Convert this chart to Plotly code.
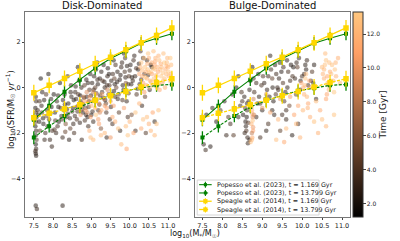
import plotly.graph_objects as go

# ---------------- reference relations ----------------
mass_bins = [7.5, 7.9, 8.3, 8.7, 9.1, 9.5, 9.9, 10.3, 10.7, 11.1]
popesso_early = [-1.42, -0.80, -0.18, 0.35, 0.85, 1.28, 1.60, 1.95, 2.17, 2.37]
popesso_late = [-2.20, -1.70, -1.25, -0.85, -0.58, -0.34, -0.14, -0.03, 0.10, 0.14]
speagle_early = [-0.23, 0.10, 0.40, 0.72, 1.05, 1.34, 1.67, 1.97, 2.30, 2.63]
speagle_late = [-1.33, -1.13, -0.94, -0.76, -0.56, -0.36, -0.17, 0.03, 0.22, 0.39]
popesso_err = 0.28
speagle_err = 0.35

# ---------------- disk-dominated galaxies ----------------
disk_mass = [
    7.55, 7.56, 7.54, 7.55, 7.57, 7.55, 7.54, 7.56, 7.55, 7.57, 7.55, 7.56, 7.54, 7.55, 7.56,
    7.55, 7.58, 8.25,
    7.62, 7.70, 7.75, 7.68, 7.80, 7.85, 7.90, 7.95, 7.78, 7.88, 7.66, 7.98, 7.72, 7.92, 7.83,
    8.05, 8.10, 8.15, 8.20, 8.25, 8.30, 8.35, 8.40, 8.45, 8.08, 8.18, 8.28, 8.38, 8.48, 8.12, 8.42, 8.33,
    8.52, 8.58, 8.62, 8.68, 8.72, 8.78, 8.82, 8.88, 8.92, 8.97, 8.55, 8.65, 8.75, 8.85, 8.95, 8.60, 8.90,
    9.02, 9.08, 9.12, 9.18, 9.22, 9.28, 9.32, 9.38, 9.42, 9.48, 9.05, 9.15, 9.25, 9.35, 9.45, 9.10, 9.40,
    9.52, 9.58, 9.62, 9.68, 9.72, 9.78, 9.82, 9.88, 9.92, 9.98, 9.55, 9.65, 9.75, 9.85, 9.95, 9.60, 9.90,
    10.02, 10.08, 10.12, 10.18, 10.22, 10.28, 10.32, 10.38, 10.45, 10.52, 10.58, 10.65, 10.15, 10.42, 10.05,
    7.65, 7.74, 7.82, 7.93, 7.97, 8.02, 8.06, 8.14, 8.22, 8.26, 8.32, 8.36, 8.44, 8.47, 8.50,
    8.54, 8.57, 8.63, 8.66, 8.70, 8.74, 8.79, 8.83, 8.87, 8.93, 8.99, 9.03, 9.07, 9.13, 9.17,
    9.21, 9.26, 9.31, 9.34, 9.39, 9.43, 9.47, 9.51, 9.56, 9.59, 9.63, 9.67, 9.71, 9.76, 9.80,
    9.84, 9.87, 9.93, 9.97, 10.00, 10.04, 10.10, 10.14, 10.20, 10.24, 10.30, 10.35, 10.40, 10.48, 10.55,
    7.60, 7.64, 7.71, 7.77, 7.86, 7.96, 8.04, 8.13, 8.23, 8.31, 8.39, 8.46, 8.53, 8.59, 8.64,
    8.71, 8.76, 8.81, 8.86, 8.91, 8.94, 9.00, 9.06, 9.11, 9.16, 9.23, 9.29, 9.36, 9.41, 9.46,
    9.53, 9.61, 9.69, 9.74, 9.81, 9.89, 9.96, 10.06, 10.17, 10.26,
    10.25, 10.30, 10.35, 10.40, 10.45, 10.50, 10.55, 10.60, 10.65, 10.70, 10.75, 10.80, 10.85, 10.90, 10.95,
    11.00, 11.05, 10.38, 10.62, 10.78, 10.88, 10.52, 10.68, 10.98, 10.72, 10.58, 10.82, 10.47, 10.92, 11.08,
    10.28, 10.33, 10.37, 10.43, 10.48, 10.53, 10.57, 10.63, 10.67, 10.71, 10.74, 10.77, 10.83, 10.87, 10.93,
    10.97, 11.02, 11.06, 10.42, 10.66,
    10.32, 10.41, 10.46, 10.51, 10.56, 10.61, 10.66, 10.69, 10.76, 10.81, 10.86, 10.91, 10.96, 11.01, 11.07,
    8.65, 8.72, 8.80, 8.85, 8.92, 8.98, 9.05, 9.10, 9.15, 9.22, 9.28, 9.35, 9.42, 9.50, 8.75, 9.00, 9.18, 8.88,
    8.70, 8.82, 8.90, 8.96, 9.03, 9.12, 9.20, 9.26, 9.33, 9.40, 9.47, 9.58,
    8.95, 9.05, 9.20, 9.35, 9.55, 9.70, 9.85, 10.00, 10.15, 10.30, 10.45, 10.55, 10.60, 10.70, 9.50, 9.95,
    10.25, 9.78, 9.12, 8.98, 9.92,
    9.25, 9.62, 9.90, 10.10, 10.35, 10.50, 10.65, 10.75,
]
disk_sfr = [
    -0.4, -0.6, -0.9, -1.1, -1.3, -1.5, -1.7, -1.9, -2.1, -2.3, -2.5, -2.7, -2.8, -2.9, -3.0,
    -5.2, -5.35, -5.2,
    -1.2, -0.8, -1.6, 0.4, -2.0, -1.0, -1.4, -0.5, -2.3, 0.6, -1.9, -1.9, -0.2, -2.3, -1.25,
    -1.1, -0.6, -1.5, -0.9, -2.2, -0.3, -1.3, -0.7, -1.8, -2.0, 0.2, -1.0, 0.5, -0.4, -1.7, -2.3, -1.6,
    -0.9, -0.2, -1.4, 0.3, -0.6, -1.1, 0.1, -0.4, -1.7, 0.6, -2.0, 0.9, -2.3, -0.9, -0.1, -0.5, -1.3,
    0.2, -0.5, 0.8, -1.0, 0.4, -0.2, 1.0, -0.7, 0.5, -1.4, -1.5, 1.1, -1.8, 0.0, -0.3, 0.0, -2.2,
    0.3, 1.2, -0.4, 0.7, -1.1, 0.9, 0.1, 1.3, -0.6, 0.5, -1.6, 0.0, -1.9, 1.5, -1.3, 0.4, 0.2,
    1.0, 0.3, 1.4, -0.3, 0.8, 1.6, -0.8, 0.6, 1.2, -0.1, 0.9, -1.5, -1.9, -2.0, -1.2,
    -0.6, -1.35, -0.3, -1.15, -2.6, -0.3, -1.45, -0.85, -1.25, -0.55, -1.95, -0.95, -1.35, 0.1, -1.05,
    -0.55, -1.25, -0.85, -0.3, -1.55, 0.0, -0.75, -1.45, 0.35, -0.85, -0.35, -1.05, 0.5, -0.25, 0.15,
    -0.75, 0.7, -0.45, 0.25, -1.1, 0.85, 0.1, -0.85, 0.6, -0.15, 1.0, 0.25, -0.3, 0.55, 1.1,
    -0.1, 0.7, 0.95, -0.25, 0.75, 0.15, 1.2, 0.5, -0.05, 1.05, 0.35, 1.3, -0.4, 0.55, 1.0,
    -1.0, -1.5, -1.1, -0.55, -1.7, -0.85, -1.85, -0.35, -1.4, -0.75, -1.15, -0.2, -1.6, 0.05, -1.05,
    -0.35, -0.95, -0.45, -1.2, 0.2, -0.6, -1.2, -0.1, -0.6, 0.35, -0.35, 0.3, -0.55, 0.1, 0.6,
    -0.3, 0.15, -0.5, 0.35, -0.55, 0.45, 0.15, 0.45, 0.85, 0.15,
    0.6, 1.1, 0.2, 0.9, 0.4, 1.3, 0.7, 0.1, 1.0, 0.5, 1.4, 0.8, 0.2, 1.1, 0.6,
    0.9, 0.3, -0.2, 1.6, -0.1, 1.5, 0.0, 0.3, 1.3, 0.9, 0.6, 0.5, 0.8, 0.0, 1.0,
    0.9, 0.5, 1.3, 0.1, 1.5, 0.3, 1.1, 0.4, 1.3, 0.0, 0.7, 1.2, 0.9, 0.3, 0.8,
    1.1, 0.5, 1.3, 0.7, 0.8,
    0.75, 0.45, 1.05, 0.65, 0.25, 0.85, 1.15, 0.55, 0.15, 1.05, 0.65, 0.4, 0.95, 0.7, 0.6,
    -0.8, -1.2, -0.4, -1.0, -0.6, -1.3, -0.2, -0.9, -0.5, -1.1, -0.3, -0.8, -0.1, -0.6, -0.7, -0.8, -1.4, -0.2,
    -1.0, -0.6, -1.1, -0.4, -0.6, -0.3, -0.7, -1.0, -0.5, -0.9, -0.3, -0.8,
    -1.9, -2.3, -1.6, -2.0, -1.3, -1.8, -0.9, -1.5, -1.1, -1.8, -1.3, -1.9, -1.1, -1.6, -2.2, -2.1,
    -0.7, -2.5, -1.2, -2.2, -2.7,
    -2.1, -1.5, -1.7, -2.0, -1.4, -1.6, -2.1, -1.0,
]
disk_time = [
    2.4, 3.1, 2.0, 3.6, 2.7, 4.2, 2.2, 3.0, 2.5, 3.8, 2.1, 2.9, 3.3, 2.6, 2.3,
    2.5, 3.0, 2.6,
    2.1, 3.0, 2.5, 1.8, 3.4, 2.2, 4.0, 2.8, 3.1, 2.0, 4.5, 3.6, 2.6, 2.9, 5.0,
    2.4, 3.1, 2.0, 4.2, 3.0, 2.5, 3.8, 2.2, 4.6, 2.9, 1.9, 5.2, 3.3, 2.7, 3.5, 2.4, 6.0,
    2.3, 3.0, 4.1, 2.6, 3.7, 2.1, 4.4, 2.9, 3.2, 2.4, 3.6, 2.0, 3.3, 5.5, 3.9, 2.7, 2.2,
    2.5, 3.4, 2.2, 4.0, 2.8, 3.6, 2.4, 4.8, 3.0, 2.6, 3.1, 1.9, 5.8, 2.9, 3.3, 4.5, 2.8,
    2.7, 2.1, 3.5, 2.5, 4.3, 3.0, 2.3, 3.8, 2.9, 4.1, 3.3, 5.0, 2.6, 2.2, 3.6, 4.7, 6.2,
    2.4, 3.2, 2.8, 4.0, 2.6, 3.5, 2.9, 4.4, 3.1, 2.5, 3.8, 2.7, 3.3, 4.1, 5.4,
    3.5, 2.3, 4.1, 2.7, 3.0, 2.1, 3.9, 2.6, 3.3, 2.4, 4.8, 2.2, 3.1, 2.9, 4.0,
    2.5, 3.4, 2.3, 4.2, 2.8, 3.1, 2.4, 3.7, 2.6, 4.3, 2.2, 3.5, 2.7, 3.9, 2.3,
    4.6, 2.5, 3.2, 2.8, 3.6, 2.1, 4.0, 2.9, 3.3, 2.4, 3.7, 2.6, 4.4, 2.3, 3.0,
    2.7, 3.8, 2.5, 4.2, 3.1, 2.6, 3.4, 2.9, 3.7, 2.4, 3.2, 2.8, 4.5, 3.0, 2.6,
    3.2, 2.4, 3.8, 2.6, 3.1, 2.3, 4.0, 2.7, 3.5, 2.2, 4.3, 2.8, 3.0, 2.5, 3.6,
    2.3, 4.1, 2.9, 3.3, 2.6, 3.9, 2.4, 3.7, 2.8, 3.2, 2.5, 4.0, 2.7, 3.4, 2.2,
    3.8, 2.6, 3.1, 2.4, 3.9, 2.8, 3.3, 2.5, 3.6, 2.9,
    11.5, 12.8, 10.9, 13.0, 12.2, 11.8, 13.2, 12.5, 11.2, 13.1, 12.0, 12.9, 11.6, 13.3, 12.4,
    11.9, 13.0, 10.5, 12.7, 11.3, 12.6, 13.0, 10.8, 12.2, 12.0, 11.0, 13.2, 12.8, 11.7, 12.5,
    12.1, 11.6, 12.9, 11.1, 13.0, 12.3, 11.7, 12.8, 12.0, 13.1, 11.4, 12.7, 12.2, 13.0, 11.8,
    12.6, 12.1, 13.2, 11.9, 12.4,
    12.4, 13.1, 11.6, 12.7, 12.0, 13.2, 11.5, 12.9, 12.3, 11.8, 13.0, 12.5, 11.9, 13.1, 12.2,
    9.5, 10.5, 8.8, 11.2, 9.9, 10.8, 8.5, 11.5, 10.0, 9.2, 11.8, 10.4, 9.0, 11.0, 7.8, 12.0, 10.6, 9.6,
    10.2, 11.0, 9.4, 10.7, 9.8, 11.3, 10.1, 11.6, 9.3, 10.9, 12.0, 10.5,
    11.8, 12.5, 10.9, 12.2, 11.5, 12.8, 10.7, 12.0, 13.0, 11.4, 12.6, 12.1, 11.0, 12.9, 10.2, 13.1,
    11.9, 12.4, 13.2, 12.9, 11.0,
    12.3, 11.7, 12.6, 11.2, 12.9, 11.8, 12.4, 13.0,
]

# ---------------- bulge-dominated galaxies ----------------
bulge_mass = [
    7.60, 7.75, 7.85, 7.95, 8.05, 8.15, 8.25, 8.35, 8.45, 7.53, 7.58, 7.70, 8.10, 8.28, 8.40,
    8.55, 8.62, 8.58, 8.60, 8.63, 8.57, 8.61, 8.64, 8.59, 8.66,
    8.70, 8.80, 8.90, 8.95, 9.05, 9.10, 9.18, 9.25, 9.32, 9.40, 9.48, 9.55, 9.62, 9.70, 9.78,
    9.85, 9.92, 10.00, 10.08, 10.15, 10.25, 10.35,
    8.85, 9.00, 9.15, 9.30, 9.45, 9.60, 9.75, 9.90, 8.75, 9.20, 9.68, 9.38,
    8.20, 8.30, 8.48, 8.52, 8.56, 8.62, 8.65, 8.68, 8.85, 8.92, 9.02, 9.12, 9.22, 9.28, 9.35,
    9.44, 9.52, 9.58, 9.65, 9.72, 9.82, 9.88, 9.95, 10.05, 10.12, 10.22, 10.30, 9.50, 9.10, 8.95,
    8.40, 8.50, 8.68, 8.78, 8.88, 8.98, 9.08, 9.15, 9.26, 9.34, 9.42, 9.53, 9.63, 9.76, 9.86,
    9.96, 10.10, 10.28, 9.25, 9.60,
    8.72, 8.74, 8.76, 8.73, 8.77, 8.75, 8.71, 8.78, 8.76, 8.74,
    8.73, 8.75, 8.77, 8.74, 8.79,
    10.50, 10.55, 10.60, 10.65, 10.70, 10.75, 10.80, 10.85, 10.62, 10.72, 10.90, 10.58,
    10.52, 10.57, 10.63, 10.68, 10.78, 10.82, 10.67,
    10.55, 10.64, 10.73, 10.84, 10.60,
    9.98, 10.05, 10.10, 10.15, 10.02, 10.20, 10.08, 10.03, 10.12, 10.18, 10.07, 10.14,
    9.20, 9.45, 9.60, 9.80, 10.30, 10.45, 10.60, 10.80, 9.95, 9.35, 10.40, 9.00, 9.10, 10.95,
    9.70, 9.85, 10.20, 10.50, 9.55, 9.40, 10.35, 9.90,
]
bulge_sfr = [
    -1.2, -0.9, -1.5, -1.0, -0.6, -1.3, -0.3, 0.0, -0.8, -2.5, -2.75, -2.6, -2.1, -2.1, 0.5,
    -0.4, -1.0, -1.5, -1.9, -2.2, -0.9, -1.3, -2.45, -1.7, -0.6,
    0.3, -0.2, 0.6, -0.7, 0.2, 0.9, -0.4, 0.4, 1.0, -0.1, 0.7, -0.6, 1.2, 0.3, 0.9,
    -0.3, 1.3, 0.5, 1.0, 0.1, 0.7, -0.5,
    -1.3, -1.0, -1.6, -1.2, -1.9, -1.4, -2.1, -1.6, 0.9, 1.4, -0.8, 0.0,
    -1.6, -0.9, -0.2, -1.2, -2.0, -0.7, -1.55, -2.3, 0.2, -0.4, 0.5, -0.1, 0.8, -0.6, 0.6,
    1.1, 0.2, -0.2, 0.7, 1.0, 0.4, 0.9, -0.1, 0.6, 1.2, 0.3, 1.0, -1.2, -1.9, -2.2,
    -1.3, -0.6, -0.1, 0.4, -0.7, 0.1, -0.5, 0.5, 0.0, -0.3, 0.4, 0.9, 0.0, 0.5, 1.1,
    0.3, 0.8, 0.2, -1.0, -1.0,
    -0.7, -1.0, -1.3, -1.6, -1.9, -2.2, -2.4, -0.5, -1.45, -2.0,
    -0.85, -1.15, -1.75, -2.3, -1.2,
    0.9, 0.4, 1.2, 0.1, 0.7, 1.0, -0.2, 0.5, -0.3, 0.3, 1.3, 1.5,
    0.6, 1.0, 0.5, 1.1, 0.3, 0.8, -0.1,
    0.8, 0.2, 0.6, 1.1, -0.5,
    0.2, -0.3, 0.6, -0.7, -1.0, 0.0, 0.4, 0.0, -0.4, 0.3, 0.1, -0.9,
    -1.1, -0.5, -1.8, -1.2, -1.5, -1.0, -1.7, -1.2, -2.2, -2.3, -2.0, -0.9, -0.3, 0.2,
    -0.4, -1.6, -1.3, -1.4, -2.4, -1.4, -0.6, -0.8,
]
bulge_time = [
    2.5, 3.0, 2.2, 3.8, 2.6, 4.1, 2.9, 2.1, 3.5, 2.8, 3.2, 2.4, 3.0, 4.2, 2.3,
    2.7, 3.3, 2.4, 3.9, 2.9, 4.5, 2.2, 3.1, 2.6, 3.7,
    2.5, 3.6, 2.2, 4.0, 2.8, 3.3, 2.4, 4.6, 2.7, 3.1, 2.3, 3.9, 2.6, 3.4, 2.1,
    4.3, 2.9, 3.6, 2.5, 3.2, 4.1, 2.8,
    3.0, 2.6, 3.8, 2.9, 4.4, 3.1, 2.4, 3.5, 2.3, 2.7, 5.2, 3.0,
    3.4, 2.6, 3.8, 2.4, 3.1, 2.7, 4.2, 2.5, 3.3, 2.6, 3.9, 2.8, 3.5, 2.4, 3.2,
    2.7, 4.0, 2.9, 3.6, 2.3, 3.1, 4.5, 2.6, 3.3, 2.9, 3.7, 2.5, 3.4, 2.7, 3.6,
    2.9, 3.5, 2.6, 3.2, 2.4, 3.8, 2.7, 3.3, 2.5, 4.1, 2.8, 3.4, 2.6, 3.7, 2.9,
    3.1, 2.4, 3.6, 2.7, 3.3,
    10.5, 11.8, 9.6, 12.3, 10.9, 11.5, 12.7, 9.0, 13.0, 8.5,
    11.0, 12.0, 10.3, 12.4, 9.2,
    12.5, 11.8, 13.0, 12.2, 11.5, 12.8, 13.2, 12.0, 11.0, 12.9, 11.7, 12.4,
    12.0, 12.9, 11.3, 12.6, 11.9, 13.0, 12.2,
    12.3, 11.6, 12.8, 12.1, 11.2,
    10.8, 11.9, 12.6, 11.2, 12.3, 10.4, 13.1, 11.5, 12.2, 11.0, 12.4, 11.7,
    11.5, 10.2, 12.5, 11.0, 12.8, 11.4, 12.1, 13.0, 12.0, 12.6, 11.7, 10.0, 9.4, 12.3,
    10.6, 12.2, 11.8, 12.7, 11.3, 12.1, 12.5, 11.1,
]

time_min, time_max = 1.2, 13.3
time_ticks = [2.0, 4.0, 6.0, 8.0, 10.0, 12.0]
mass_ticks = [7.5, 8.0, 8.5, 9.0, 9.5, 10.0, 10.5, 11.0]
sfr_ticks = [-4, -2, 0, 2]

legend_names = [
    "Popesso et al. (2023), t = 1.169 Gyr",
    "Popesso et al. (2023), t = 13.799 Gyr",
    "Speagle et al. (2014), t = 1.169 Gyr",
    "Speagle et al. (2014), t = 13.799 Gyr",
]

copper = [[0.0, "rgb(0,0,0)"], [0.8, "rgb(255,159,101)"], [1.0, "rgb(255,199,127)"]]

FONT = "DejaVu Sans"
GREEN = "#008000"
GOLD = "#FFD700"

# plot area in pixels (for layout-only placements)
W, H = 400, 241
ML, MR, MT, MB = 24, 40, 11, 22
PW, PH = W - ML - MR, H - MT - MB


def px_x(p):
    return (p - ML) / PW


def px_y(p):
    return (H - MB - p) / PH


fig = go.Figure()

panels = [("x", "y", disk_mass, disk_sfr, disk_time),
          ("x2", "y2", bulge_mass, bulge_sfr, bulge_time)]

for xa, ya, m, s, t in panels:
    fig.add_trace(go.Scatter(
        x=m, y=s, mode="markers", xaxis=xa, yaxis=ya, showlegend=False,
        marker=dict(color=t, coloraxis="coloraxis", size=4.6, opacity=0.5,
                    line=dict(width=0)),
        hoverinfo="skip"))

series = [
    (popesso_early, GREEN, "solid", popesso_err, 4, 1.1),
    (popesso_late, GREEN, "dash", popesso_err, 4, 1.1),
    (speagle_early, GOLD, "solid", speagle_err, 5.5, 1.3),
    (speagle_late, GOLD, "dash", speagle_err, 5.5, 1.3),
]

for xa, ya, m, s, t in panels:
    for (vals, col, dash, err, msize, lw), name in zip(series, legend_names):
        fig.add_trace(go.Scatter(
            x=mass_bins, y=vals, mode="lines+markers", name=name,
            xaxis=xa, yaxis=ya, showlegend=False,
            line=dict(color=col, width=lw, dash="3px,1.5px" if dash == "dash" else "solid"),
            marker=dict(symbol="square", size=msize, color=col),
            error_y=dict(type="constant", value=err, color=col, thickness=1.3, width=0)))

# custom compact legend (matplotlib-like) in the right panel
shapes = [dict(type="rect", xref="paper", yref="paper",
               x0=px_x(202), x1=px_x(328), y0=px_y(217), y1=px_y(181.5),
               line=dict(color="#cccccc", width=0.8), fillcolor="rgba(255,255,255,0.85)",
               layer="above")]
annotations = []
row_y = [186.2, 194.6, 203.0, 211.4]
for (vals, col, dash, err, msize, lw), name, ry in zip(series, legend_names, row_y):
    shapes.append(dict(type="line", xref="paper", yref="paper",
                       x0=px_x(204), x1=px_x(217), y0=px_y(ry), y1=px_y(ry),
                       line=dict(color=col, width=lw, dash="dash" if dash == "dash" else "solid"),
                       layer="above"))
    shapes.append(dict(type="line", xref="paper", yref="paper",
                       x0=px_x(210.5), x1=px_x(210.5), y0=px_y(ry - 3), y1=px_y(ry + 3),
                       line=dict(color=col, width=1.1), layer="above"))
    hs = msize / 2 * 0.8
    shapes.append(dict(type="rect", xref="paper", yref="paper",
                       x0=px_x(210.5 - hs), x1=px_x(210.5 + hs),
                       y0=px_y(ry + hs), y1=px_y(ry - hs),
                       line=dict(width=0), fillcolor=col, layer="above"))
    annotations.append(dict(text=name, x=px_x(220), y=px_y(ry), xref="paper", yref="paper",
                            xanchor="left", yanchor="middle", showarrow=False,
                            font=dict(size=6.4, family=FONT, color="#222")))

annotations += [
    dict(text="Disk-Dominated", x=px_x(103.5), y=1, xref="paper", yref="paper",
         xanchor="center", yanchor="bottom", yshift=-1, showarrow=False,
         font=dict(size=10, family=FONT, color="#111")),
    dict(text="Bulge-Dominated", x=px_x(280), y=1, xref="paper", yref="paper",
         xanchor="center", yanchor="bottom", yshift=-1, showarrow=False,
         font=dict(size=10, family=FONT, color="#111")),
    dict(text="log<sub>10</sub>(M<sub>*</sub>/M<sub>☉</sub>)", x=px_x(200), y=px_y(236),
         xref="paper", yref="paper", xanchor="center", yanchor="middle",
         showarrow=False, font=dict(size=8, family=FONT, color="#111")),
    dict(text="log<sub>10</sub>(SFR/M<sub>☉</sub> <i>yr</i><sup>−1</sup>)", x=px_x(8), y=px_y(110),
         xref="paper", yref="paper", xanchor="center", yanchor="middle", textangle=-90,
         showarrow=False, font=dict(size=8.5, family=FONT, color="#111")),
]

axis_common = dict(showline=True, mirror=True, linecolor="#777", linewidth=1,
                   ticks="outside", ticklen=2, tickcolor="#444", showgrid=False,
                   zeroline=False, tickfont=dict(size=6.5, color="#222", family=FONT))

fig.update_layout(
    width=W, height=H,
    margin=dict(l=ML, r=MR, t=MT, b=MB),
    paper_bgcolor="white", plot_bgcolor="white",
    font=dict(family=FONT, color="#222"),
    showlegend=False,
    xaxis=dict(domain=[0, px_x(183)], range=[7.27, 11.28], tickvals=mass_ticks,
               tickformat=".1f", anchor="y", **axis_common),
    yaxis=dict(domain=[0, 1], range=[-5.7, 3.33], tickvals=sfr_ticks, anchor="x", **axis_common),
    xaxis2=dict(domain=[px_x(200), 1.0], range=[7.32, 11.2], tickvals=mass_ticks,
                tickformat=".1f", anchor="y2", **axis_common),
    yaxis2=dict(domain=[0, 1], range=[-5.7, 3.33], tickvals=sfr_ticks, anchor="x2", **axis_common),
    coloraxis=dict(
        colorscale=copper, cmin=time_min, cmax=time_max,
        colorbar=dict(x=px_x(363), xanchor="left", xpad=0, ypad=0, y=0, yanchor="bottom",
                      len=1, lenmode="fraction", thickness=10,
                      outlinewidth=1, outlinecolor="#333",
                      tickvals=time_ticks, tickformat=".1f", ticks="outside", ticklen=2.5,
                      tickfont=dict(size=6, family=FONT, color="#222"),
                      title=dict(text="Time [Gyr]", side="right",
                                 font=dict(size=9, family=FONT, color="#222")))),
    shapes=shapes,
    annotations=annotations,
)

fig.write_html("out.html")
